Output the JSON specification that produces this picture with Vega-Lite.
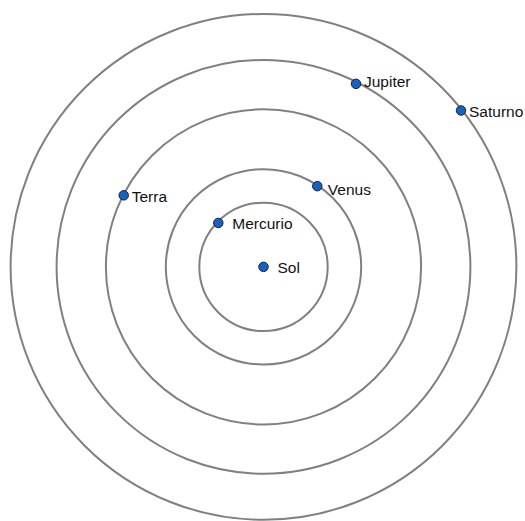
{
  "$schema": "https://vega.github.io/schema/vega-lite/v6.json",
  "autosize": {"type": "fit", "contains": "padding"},
  "width": 525,
  "height": 521,
  "padding": 0,
  "background": "white",
  "config": {"view": {"stroke": null}},
  "datasets": {
    "orbits": [
      {"orbita": "Mercurio", "raio": 64.2},
      {"orbita": "Venus", "raio": 97.7},
      {"orbita": "Terra", "raio": 157.6},
      {"orbita": "Jupiter", "raio": 206.9},
      {"orbita": "Saturno", "raio": 252.9}
    ],
    "bodies": [
      {"nome": "Sol", "x": 0, "y": 0, "grupo": "a"},
      {"nome": "Mercurio", "x": -45.2, "y": 44.5, "grupo": "a"},
      {"nome": "Venus", "x": 53.8, "y": 81.8, "grupo": "b"},
      {"nome": "Terra", "x": -139.8, "y": 72.5, "grupo": "c"},
      {"nome": "Jupiter", "x": 92.5, "y": 185.5, "grupo": "d"},
      {"nome": "Saturno", "x": 197.5, "y": 158.5, "grupo": "c"}
    ]
  },
  "layer": [
    {
      "data": {"name": "orbits"},
      "mark": {"type": "point", "shape": "circle", "filled": false, "stroke": "#808080", "strokeWidth": 2, "opacity": 1},
      "encoding": {
        "x": {"datum": 0, "type": "quantitative", "scale": {"domain": [-263.5, 261.5], "nice": false, "zero": false}, "axis": null},
        "y": {"datum": 0, "type": "quantitative", "scale": {"domain": [-250.5, 270.5], "nice": false, "zero": false}, "axis": null},
        "size": {"field": "raio", "type": "quantitative", "scale": {"type": "pow", "exponent": 2, "domain": [0, 300], "range": [0, 360000]}, "legend": null}
      }
    },
    {
      "data": {"name": "bodies"},
      "mark": {"type": "point", "shape": "circle", "filled": true, "fill": "#1562c4", "stroke": "#1a2230", "strokeWidth": 1, "size": 90, "opacity": 1},
      "encoding": {
        "x": {"field": "x", "type": "quantitative", "scale": {"domain": [-263.5, 261.5], "nice": false, "zero": false}, "axis": null},
        "y": {"field": "y", "type": "quantitative", "scale": {"domain": [-250.5, 270.5], "nice": false, "zero": false}, "axis": null}
      }
    },
    {
      "data": {"name": "bodies"},
      "transform": [{"filter": "datum.grupo === 'a'"}],
      "mark": {"type": "text", "align": "left", "baseline": "middle", "dx": 14, "dy": 1, "font": "Liberation Sans", "fontSize": 15.5, "color": "#111111"},
      "encoding": {
        "x": {"field": "x", "type": "quantitative", "axis": null},
        "y": {"field": "y", "type": "quantitative", "axis": null},
        "text": {"field": "nome"}
      }
    },
    {
      "data": {"name": "bodies"},
      "transform": [{"filter": "datum.grupo === 'b'"}],
      "mark": {"type": "text", "align": "left", "baseline": "middle", "dx": 10.5, "dy": 4, "font": "Liberation Sans", "fontSize": 15.5, "color": "#111111"},
      "encoding": {
        "x": {"field": "x", "type": "quantitative", "axis": null},
        "y": {"field": "y", "type": "quantitative", "axis": null},
        "text": {"field": "nome"}
      }
    },
    {
      "data": {"name": "bodies"},
      "transform": [{"filter": "datum.grupo === 'c'"}],
      "mark": {"type": "text", "align": "left", "baseline": "middle", "dx": 8, "dy": 2, "font": "Liberation Sans", "fontSize": 15.5, "color": "#111111"},
      "encoding": {
        "x": {"field": "x", "type": "quantitative", "axis": null},
        "y": {"field": "y", "type": "quantitative", "axis": null},
        "text": {"field": "nome"}
      }
    },
    {
      "data": {"name": "bodies"},
      "transform": [{"filter": "datum.grupo === 'd'"}],
      "mark": {"type": "text", "align": "left", "baseline": "middle", "dx": 8, "dy": -1.5, "font": "Liberation Sans", "fontSize": 15.5, "color": "#111111"},
      "encoding": {
        "x": {"field": "x", "type": "quantitative", "axis": null},
        "y": {"field": "y", "type": "quantitative", "axis": null},
        "text": {"field": "nome"}
      }
    }
  ]
}
